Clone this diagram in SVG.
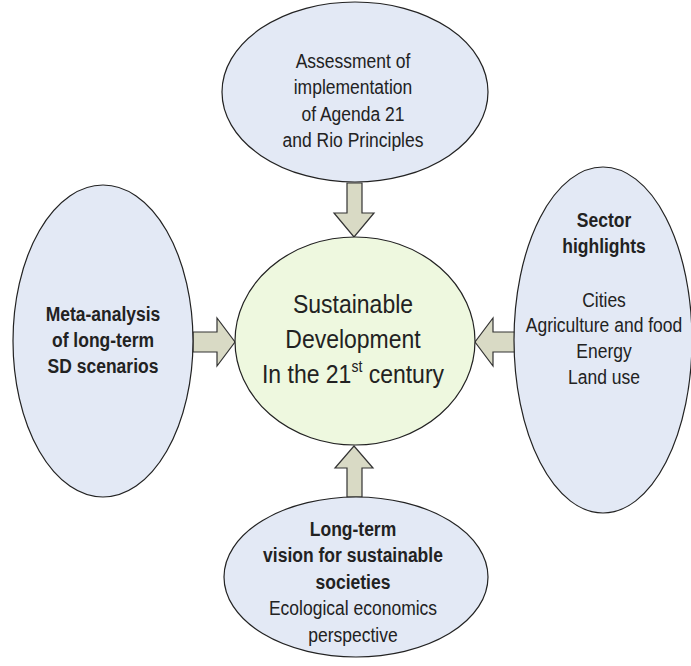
<svg xmlns="http://www.w3.org/2000/svg" width="691" height="666" viewBox="0 0 691 666">
<style>
.node{fill:#E3E9F5;stroke:#222;stroke-width:1.2}
.core{fill:#EEF8DF;stroke:#222;stroke-width:1.2}
.arrow{fill:#D9DAC5;stroke:#333;stroke-width:1.2;stroke-linejoin:miter}
text{font-family:"Liberation Sans",Arial,sans-serif;fill:#222;text-anchor:middle}
.t{font-size:17.5px}
.b{font-size:17.5px;font-weight:bold}
.c{font-size:23px}
</style>
<rect width="691" height="666" fill="#fff"/>
<g id="connectors">
<polygon class="arrow" points="347,183 362,183 362,213 374,213 354,237 334,213 347,213"/>
<polygon class="arrow" points="193,332 217,332 217,318 235,342 217,366 217,352 193,352"/>
<polygon class="arrow" points="515,332 493,332 493,318 475,342 493,366 493,352 515,352"/>
<polygon class="arrow" points="347,497 362,497 362,468 373,468 354,446 335,468 347,468"/>
</g>
<g id="top">
<ellipse class="node" cx="355" cy="92" rx="133" ry="90"/>
<g transform="translate(353,0) scale(1,1.15)">
<text class="t" x="0" y="59.1">Assessment of</text>
<text class="t" x="0" y="81.7">implementation</text>
<text class="t" x="0" y="105.2">of Agenda 21</text>
<text class="t" x="0" y="127.8">and Rio Principles</text>
</g>
</g>
<g id="left">
<ellipse class="node" cx="103" cy="341" rx="90" ry="156"/>
<g transform="translate(103,0) scale(1,1.15)">
<text class="b" x="0" y="279.1">Meta-analysis</text>
<text class="b" x="0" y="301.7">of long-term</text>
<text class="b" x="0" y="324.3">SD scenarios</text>
</g>
</g>
<g id="right">
<ellipse class="node" cx="603" cy="340" rx="89" ry="173"/>
<g transform="translate(604,0) scale(1,1.15)">
<text class="b" x="0" y="197.4">Sector</text>
<text class="b" x="0" y="219.6">highlights</text>
<text class="t" x="0" y="267">Cities</text>
<text class="t" x="0" y="289.1">Agriculture and food</text>
<text class="t" x="0" y="311.3">Energy</text>
<text class="t" x="0" y="333.5">Land use</text>
</g>
</g>
<g id="bottom">
<ellipse class="node" cx="356" cy="577" rx="132" ry="80"/>
<g transform="translate(353,0) scale(1,1.15)">
<text class="b" x="0" y="466.1">Long-term</text>
<text class="b" x="0" y="489.1">vision for sustainable</text>
<text class="b" x="0" y="512.2">societies</text>
<text class="t" x="0" y="535.2">Ecological economics</text>
<text class="t" x="0" y="558.3">perspective</text>
</g>
</g>
<g id="center">
<ellipse class="core" cx="355" cy="341" rx="120" ry="104"/>
<g transform="translate(353,0) scale(1,1.15)">
<text class="c" x="0" y="272.2">Sustainable</text>
<text class="c" x="0" y="302.6">Development</text>
<text class="c" x="0" y="333">In the 21<tspan font-size="14" dy="-9.5">st</tspan><tspan dy="9.5"> century</tspan></text>
</g>
</g>
</svg>
